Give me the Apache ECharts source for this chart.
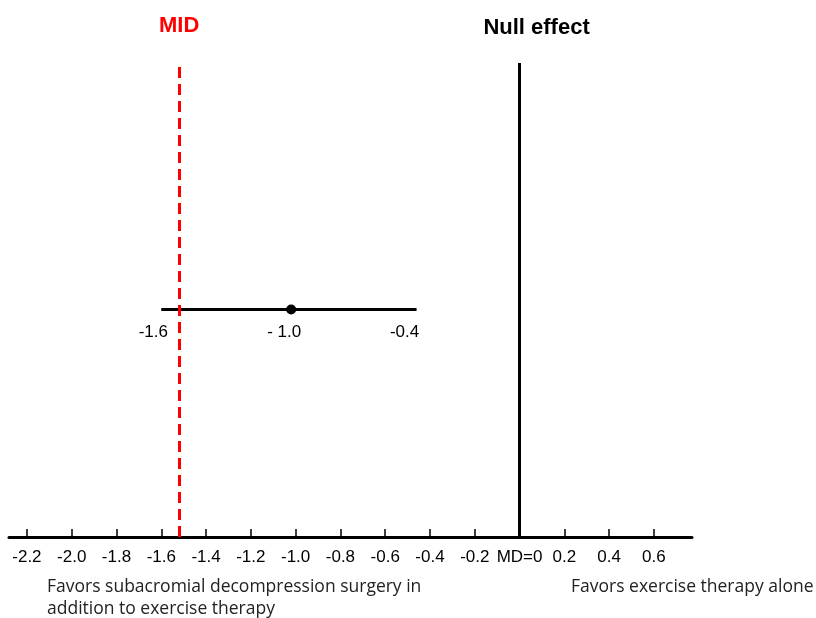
<!DOCTYPE html>
<html>
<head>
<meta charset="utf-8">
<script src="https://cdn.jsdelivr.net/npm/echarts@6/dist/echarts.min.js"></script>
<style>html,body{margin:0;padding:0;background:#fff}#chart{width:816px;height:618px}</style>
</head>
<body>
<div id="chart"></div>
<script>
// ---- data ----
const tickValues = [-2.2, -2.0, -1.8, -1.6, -1.4, -1.2, -1.0, -0.8, -0.6, -0.4, -0.2, 0, 0.2, 0.4, 0.6];
const tickLabels = ['-2.2', '-2.0', '-1.8', '-1.6', '-1.4', '-1.2', '-1.0', '-0.8', '-0.6', '-0.4', '-0.2', 'MD=0', '0.2', '0.4', '0.6'];
const midValue = -1.52;
const nullValue = 0;
const ciLower = -1.6;
const ciEstimate = -1.02;
const ciUpper = -0.46;
const ciRow = 0.48;
const ciLabels = ['-1.6', '- 1.0', '-0.4'];
const refLabels = ['MID', 'Null effect'];
const leftNote = 'Favors subacromial decompression surgery in\naddition to exercise therapy';
const rightNote = 'Favors exercise therapy alone';

const chart = echarts.init(document.getElementById('chart'), null, {renderer: 'canvas'});
const labelMap = {};
tickValues.forEach((v, i) => { labelMap[v.toFixed(1)] = tickLabels[i]; });

const option = {
  backgroundColor: '#fff',
  animation: false,
  grid: {left: 9, right: 124, top: 63, bottom: 81, containLabel: false, outerBoundsMode: 'none'},
  xAxis: {
    type: 'value', min: -2.28, max: 0.77,
    axisLine: {show: true, onZero: false, lineStyle: {color: '#000', width: 3}},
    axisTick: {show: true, inside: true, length: 8, customValues: tickValues, lineStyle: {color: '#000', width: 1.5}},
    axisLabel: {
      show: true, customValues: tickValues, margin: 12,
      fontFamily: 'Liberation Sans, Arial', fontSize: 17, color: '#000',
      formatter: v => labelMap[Number(v).toFixed(1)] || ''
    },
    splitLine: {show: false}
  },
  yAxis: {type: 'value', min: 0, max: 1, show: false},
  series: [
    {
      type: 'line', data: [], silent: true,
      markLine: {
        symbol: 'none', silent: true,
        data: [
          {xAxis: midValue, lineStyle: {color: '#ff0000', width: 3, type: [11, 6]},
           label: {show: true, position: 'end', formatter: refLabels[0], color: '#ff0000', fontWeight: 'bold', fontSize: 22, fontFamily: 'Liberation Sans, Arial', distance: 26}},
          {xAxis: nullValue, lineStyle: {color: '#000', width: 3, type: 'solid'},
           label: {show: true, position: 'end', formatter: refLabels[1], color: '#000', fontWeight: 'bold', fontSize: 22, fontFamily: 'Liberation Sans, Arial', distance: 24, offset: [17, 0]}}
        ]
      }
    },
    {
      type: 'line', symbol: 'none', silent: true,
      data: [[ciLower, ciRow], [ciUpper, ciRow]],
      lineStyle: {color: '#000', width: 3}
    },
    {
      type: 'scatter', silent: true, symbol: 'circle', symbolSize: 10,
      itemStyle: {color: '#000', opacity: 1},
      data: [[ciEstimate, ciRow]]
    },
    {
      type: 'scatter', silent: true, symbolSize: 0,
      itemStyle: {color: '#000', opacity: 1},
      data: [
        {value: [ciLower, ciRow], label: {offset: [-8, 0]}, name: ciLabels[0]},
        {value: [ciEstimate, ciRow], label: {offset: [-7, 0]}, name: ciLabels[1]},
        {value: [ciUpper, ciRow], label: {offset: [-12, 0]}, name: ciLabels[2]}
      ],
      label: {show: true, position: 'bottom', distance: 14, formatter: p => p.name,
              color: '#000', fontSize: 17, fontFamily: 'Liberation Sans, Arial'}
    }
  ],
  graphic: [
    {type: 'text', left: 47, top: 576, style: {text: leftNote, fill: '#222', font: '17.5px "Open Sans"', lineHeight: 22}},
    {type: 'text', left: 571, top: 576, style: {text: rightNote, fill: '#222', font: '17.5px "Open Sans"', lineHeight: 22}}
  ]
};
chart.setOption(option);
</script>
</body>
</html>
